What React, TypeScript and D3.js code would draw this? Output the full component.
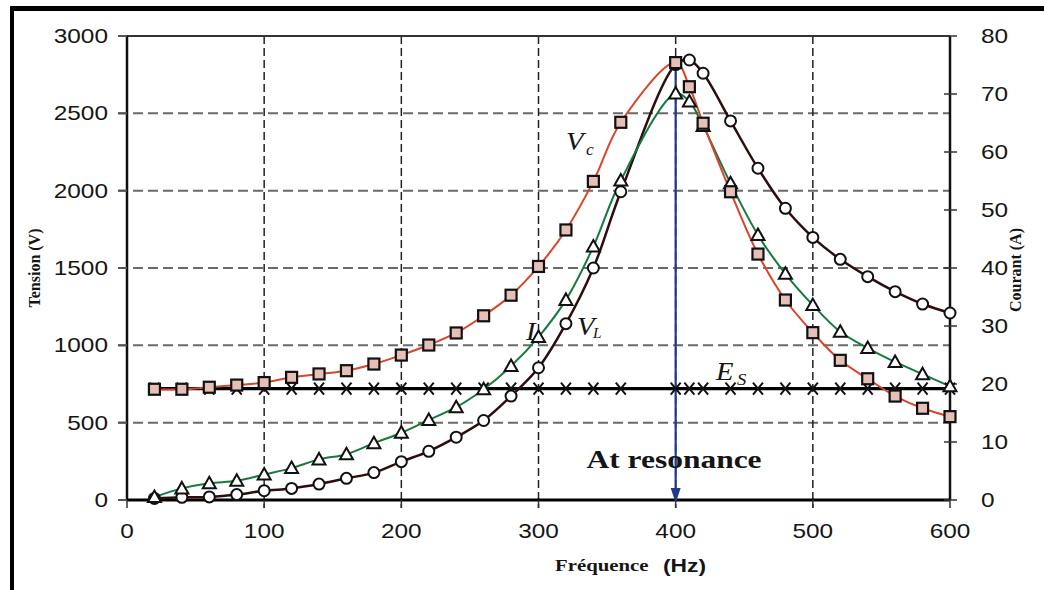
import React from 'react';
import * as d3 from 'd3';

// ---- data ----
const freqs = [20, 40, 60, 80, 100, 120, 140, 160, 180, 200, 220, 240, 260, 280, 300, 320, 340, 360, 400, 410, 420, 440, 460, 480, 500, 520, 540, 560, 580, 600];
const vcValues = [716, 716, 729, 743, 759, 793, 815, 836, 879, 937, 1002, 1080, 1191, 1324, 1510, 1746, 2060, 2442, 2828, 2672, 2436, 1993, 1590, 1293, 1082, 903, 784, 672, 593, 539];
const iValues = [0.5, 2.0, 2.9, 3.3, 4.4, 5.5, 7.0, 7.9, 9.8, 11.6, 13.8, 16.0, 19.1, 23.1, 28.1, 34.5, 43.7, 55.1, 70.1, 68.7, 64.5, 54.6, 45.7, 39.0, 33.6, 29.0, 26.2, 23.8, 21.7, 19.6];
const vlValues = [10, 17, 20, 35, 60, 75, 103, 140, 177, 248, 315, 406, 514, 672, 855, 1140, 1500, 1993, 2815, 2845, 2759, 2451, 2145, 1886, 1698, 1556, 1444, 1347, 1267, 1209];
const esValues = [720, 720, 720, 720, 720, 720, 720, 720, 720, 720, 720, 720, 720, 720, 720, 720, 720, 720, 720, 720, 720, 720, 720, 720, 720, 720, 720, 720, 720, 720];
const leftTicks = [0, 500, 1000, 1500, 2000, 2500, 3000];
const rightTicks = [0, 10, 20, 30, 40, 50, 60, 70, 80];
const xTicks = [0, 100, 200, 300, 400, 500, 600];
const resonanceFreq = 400;
const resonanceV = 2828;

const W = 1044;
const H = 590;
const SX = 1.22; // horizontal stretch of the original picture

const x = d3.scaleLinear().domain([0, 600]).range([127, 950]);
const yL = d3.scaleLinear().domain([0, 3000]).range([500, 36]);
const yR = d3.scaleLinear().domain([0, 80]).range([500, 36]);

const curve = d3.curveCatmullRom.alpha(0.5);

function pathFor(vals: number[], scale: (v: number) => number) {
  return d3.line<number>().x((_, i) => x(freqs[i])).y((v) => scale(v)).curve(curve)(vals) || '';
}

function ST(props: { x: number; y: number; anchor?: string; size: number; family: string; weight?: string; style?: string; sx?: number; children: any; rotate?: number; fill?: string }) {
  const { x: tx, y: ty, anchor = 'start', size, family, weight = 'normal', style = 'normal', sx = SX, rotate = 0, fill = '#151515' } = props;
  const tr = rotate ? `translate(${tx},${ty}) rotate(${rotate})` : `translate(${tx},${ty}) scale(${sx},1)`;
  return (
    <text transform={tr} textAnchor={anchor} fontSize={size} fontFamily={family} fontWeight={weight} fontStyle={style} fill={fill}>
      {props.children}
    </text>
  );
}

export default function App() {
  const sans = '"Liberation Sans", Arial, sans-serif';
  const serif = '"Liberation Serif", "Times New Roman", serif';
  const plotL = x(0), plotR = x(600), plotT = yL(3000), plotB = yL(0);

  const vcPath = pathFor(vcValues, yL);
  const iPath = pathFor(iValues, yR);
  const vlPath = pathFor(vlValues, yL);
  const esPath = pathFor(esValues, yL);

  const sq = 5.5;
  const tri = (cx: number, cy: number) => `M${cx},${cy - 6.5} L${cx + 6.5},${cy + 5} L${cx - 6.5},${cy + 5} Z`;
  const ax = x(resonanceFreq);

  return (
    <svg width={W} height={H} style={{ position: 'absolute', left: 0, top: 0, background: '#fff' }}>
      <rect x={0} y={0} width={W} height={H} fill="#fff" />
      {/* outer frame */}
      <rect x={10} y={6} width={W - 10} height={5} fill="#000" />
      <rect x={10} y={6} width={4} height={H - 6} fill="#000" />

      {/* grid */}
      {leftTicks.filter((t) => t > 0 && t < 3000).map((t) => (
        <line key={'hg' + t} x1={plotL - 9} x2={plotR} y1={yL(t)} y2={yL(t)} stroke="#6a6a6a" strokeWidth={2} strokeDasharray="10,5" />
      ))}
      {xTicks.filter((t) => t > 0 && t < 600).map((t) => (
        <line key={'vg' + t} x1={x(t)} x2={x(t)} y1={plotT} y2={plotB + 8} stroke="#222" strokeWidth={1.5} strokeDasharray="8,4" />
      ))}
      {/* axis frame */}
      <line x1={plotL} x2={plotR} y1={plotT} y2={plotT} stroke="#333" strokeWidth={2} />
      <line x1={plotL} x2={plotL} y1={plotT} y2={plotB} stroke="#111" strokeWidth={2.5} />
      <line x1={plotR} x2={plotR} y1={plotT} y2={plotB} stroke="#111" strokeWidth={2.5} />
      <line x1={plotL} x2={plotR} y1={plotB} y2={plotB} stroke="#000" strokeWidth={3} />
      {/* ticks */}
      {leftTicks.map((t) => (
        <line key={'lt' + t} x1={plotL - 9} x2={plotL} y1={yL(t)} y2={yL(t)} stroke="#555" strokeWidth={2} />
      ))}
      {rightTicks.map((t) => (
        <line key={'rt' + t} x1={plotR - 6} x2={plotR + 7} y1={yR(t)} y2={yR(t)} stroke="#333" strokeWidth={1.5} />
      ))}
      {xTicks.map((t) => (
        <line key={'xt' + t} x1={x(t)} x2={x(t)} y1={plotB} y2={plotB + 8} stroke="#333" strokeWidth={1.5} />
      ))}

      {/* tick labels */}
      {leftTicks.map((t) => (
        <ST key={'ll' + t} x={108} y={yL(t) + 7} anchor="end" size={20} family={sans}>{t}</ST>
      ))}
      {rightTicks.map((t) => (
        <ST key={'rl' + t} x={981} y={yR(t) + 7} anchor="start" size={20} family={sans}>{t}</ST>
      ))}
      {xTicks.map((t) => (
        <ST key={'xl' + t} x={x(t)} y={538} anchor="middle" size={20} family={sans}>{t}</ST>
      ))}

      {/* axis titles */}
      <ST x={40} y={268} anchor="middle" size={16} family={serif} weight="bold" rotate={-90}>Tension (V)</ST>
      <ST x={1021} y={270} anchor="middle" size={16} family={serif} weight="bold" rotate={-90}>Courant (A)</ST>
      <ST x={555} y={571} size={16} family={serif} weight="bold" sx={1.3}>Fréquence</ST>
      <ST x={663} y={572} size={19} family={sans} weight="bold" sx={1.2}>(Hz)</ST>

      {/* Es line */}
      <path d={esPath} fill="none" stroke="#000" strokeWidth={3.2} />
      {/* series lines */}
      <path d={vlPath} fill="none" stroke="#2d0d0d" strokeWidth={2.5} />
      <path d={iPath} fill="none" stroke="#157a3e" strokeWidth={2} />
      <path d={vcPath} fill="none" stroke="#d9442c" strokeWidth={2} />

      {/* resonance arrow */}
      <line x1={ax} x2={ax} y1={yL(resonanceV)} y2={490} stroke="#1f3a8a" strokeWidth={2.2} />
      <path d={`M${ax - 5},${488} L${ax + 5},${488} L${ax},${503} Z`} fill="#1f3a8a" />

      {/* markers */}
      {esValues.map((v, i) => {
        const cx = x(freqs[i]), cy = yL(v);
        return (
          <path key={'es' + i} d={`M${cx - 5},${cy - 6} L${cx + 5},${cy + 6} M${cx - 5},${cy + 6} L${cx + 5},${cy - 6}`} stroke="#111" strokeWidth={2} fill="none" />
        );
      })}
      {vlValues.map((v, i) => (
        <circle key={'vl' + i} cx={x(freqs[i])} cy={yL(v)} r={5.5} fill="#fff" stroke="#111" strokeWidth={2} />
      ))}
      {iValues.map((v, i) => (
        <path key={'i' + i} d={tri(x(freqs[i]), yR(v))} fill="#fff" stroke="#111" strokeWidth={2} />
      ))}
      {vcValues.map((v, i) => (
        <rect key={'vc' + i} x={x(freqs[i]) - sq} y={yL(v) - sq} width={sq * 2} height={sq * 2} fill="#e6bfb6" stroke="#111" strokeWidth={2.2} />
      ))}

      {/* series labels */}
      <ST x={566} y={150} size={26} family={serif} style="italic" sx={1.1}>V</ST>
      <ST x={586} y={155} size={16} family={serif} style="italic" sx={1.1}>c</ST>
      <ST x={526} y={340} size={26} family={serif} style="italic" sx={1.1}>I</ST>
      <ST x={577} y={335} size={26} family={serif} style="italic" sx={1.1}>V</ST>
      <ST x={593} y={338} size={14} family={serif} style="italic" sx={1.1}>L</ST>
      <ST x={716} y={380} size={26} family={serif} style="italic" sx={1.1}>E</ST>
      <ST x={737} y={385} size={17} family={serif} style="italic" sx={1.1}>S</ST>

      {/* annotation */}
      <ST x={674} y={468} anchor="middle" size={25} family={serif} weight="bold" sx={1.26}>At resonance</ST>
    </svg>
  );
}
